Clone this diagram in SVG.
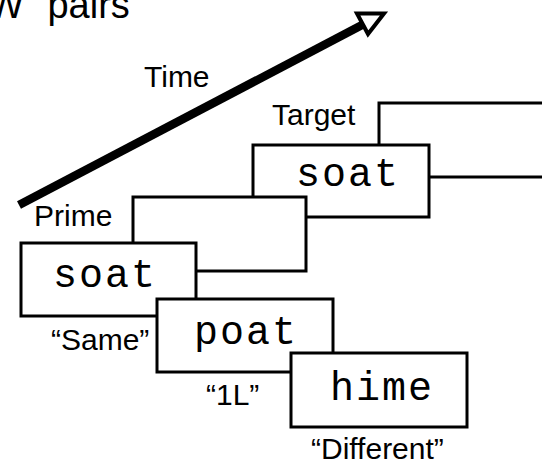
<svg xmlns="http://www.w3.org/2000/svg" width="542" height="466" viewBox="0 0 542 466">
<style>
.box{fill:#fff;stroke:#000;stroke-width:3}
.lbl{font-family:"Liberation Sans",Arial,sans-serif;font-size:30px;fill:#000}
.word{font-family:"Liberation Mono","Courier New",monospace;font-size:40px;letter-spacing:2px;fill:#000}
</style>
<rect width="542" height="466" fill="#fff"/>
<text class="lbl" x="-12" y="18" style="font-size:38px;word-spacing:13px">W pairs</text>
<g id="connectors">
<line x1="19" y1="205" x2="362" y2="25" stroke="#000" stroke-width="8.5"/>
<polygon points="357,13.5 384,13.5 368,34" fill="#fff" stroke="#000" stroke-width="4" stroke-linejoin="miter"/>
</g>
<text class="lbl" x="144" y="87">Time</text>
<g id="target-mask">
<rect class="box" x="379" y="103" width="176" height="74"/>
</g>
<g id="target">
<rect class="box" x="253" y="145" width="176" height="72"/>
<text class="word" x="296" y="186">soat</text>
</g>
<text class="lbl" x="272" y="125">Target</text>
<g id="prime-mask">
<rect class="box" x="133" y="197" width="173" height="74"/>
</g>
<g id="prime-same">
<rect class="box" x="21" y="243" width="175" height="73"/>
<text class="word" x="53" y="287">soat</text>
</g>
<text class="lbl" x="34" y="226">Prime</text>
<text class="lbl" x="51" y="350">“Same”</text>
<g id="prime-1l">
<rect class="box" x="157" y="299" width="176" height="73"/>
<text class="word" x="194" y="344">poat</text>
</g>
<text class="lbl" x="206" y="405">“1L”</text>
<g id="prime-different">
<rect class="box" x="291" y="353" width="176" height="74"/>
<text class="word" x="330" y="400">hime</text>
</g>
<text class="lbl" x="311" y="459">“Different”</text>
</svg>
